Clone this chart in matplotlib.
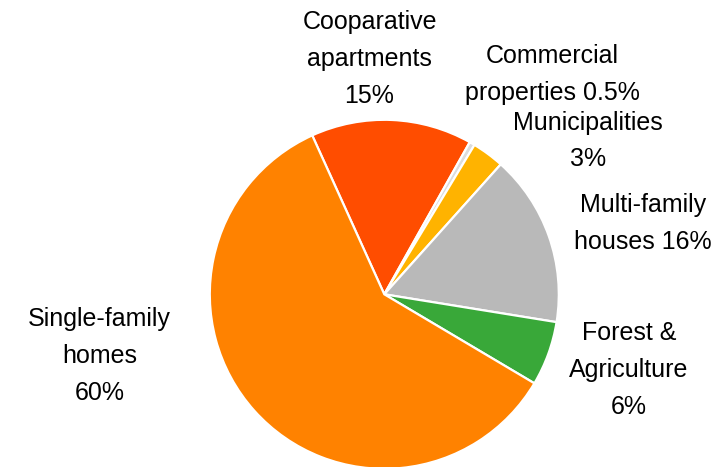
import matplotlib
matplotlib.use("Agg")
import matplotlib.pyplot as plt

plt.rcParams['font.family'] = ['Liberation Sans', 'DejaVu Sans']

categories = ["Cooparative\napartments", "Commercial\nproperties", "Municipalities",
              "Multi-family\nhouses", "Forest &\nAgriculture", "Single-family\nhomes"]
values = [15, 0.5, 3, 16, 6, 60]
pct_labels = ["15%", "0.5%", "3%", "16%", "6%", "60%"]
colors = ["#FF4D00", "#DCDCDC", "#FFB300", "#B9B9B9", "#39A839", "#FF8200"]

W, H = 724, 467
fig = plt.figure(figsize=(W / 100, H / 100), dpi=100)

cx, cy, r = 384.3, 294.3, 174.5
ax = fig.add_axes([(cx - r) / W, (H - cy - r) / H, 2 * r / W, 2 * r / H])
wedges, _ = ax.pie(values, colors=colors, startangle=114.4, counterclock=False,
                   radius=1, wedgeprops=dict(edgecolor="white", linewidth=1.6))
for w in wedges:
    w.set_clip_on(False)
ax.set_xlim(-1, 1)
ax.set_ylim(-1, 1)
ax.set_axis_off()

# label texts: (x center px, y center px) with separator between name and pct
label_pos = [(369.5, 59.0), (552.0, 74.5), (588.0, 141.0),
             (643.0, 223.5), (629.0, 370.0), (99.3, 355.8)]
seps = ["\n", " ", "\n", " ", "\n", "\n"]
for name, pct, sep, (x, y) in zip(categories, pct_labels, seps, label_pos):
    fig.text(x / W, 1 - y / H, name + sep + pct, ha="center", va="center",
             multialignment="center", fontsize=18, linespacing=1.68, color="#000000")

fig.savefig("out.png", dpi=100)
